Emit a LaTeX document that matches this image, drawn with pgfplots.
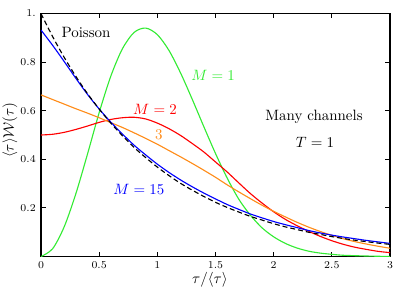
\documentclass[border=0pt]{standalone}
\usepackage{pgfplots}
\pgfplotsset{compat=1.18}
\definecolor{cgreen}{rgb}{0.2,0.92,0.2}
\definecolor{corange}{rgb}{1,0.55,0.1}
\begin{document}
\begin{tikzpicture}
\begin{axis}[
  scale only axis, width=232.67bp, height=162bp,
  xmin=0, xmax=3, ymin=0, ymax=1,
  xtick={0,0.5,1,1.5,2,2.5,3}, xticklabels={0,0.5,1,1.5,2,2.5,3},
  ytick={0.2,0.4,0.6,0.8,1}, yticklabels={0.2,0.4,0.6,0.8,1.},
  tick align=inside, major tick length=3.3bp,
  ticklabel style={font=\scriptsize},
  axis line style={line width=0.7pt},
  every tick/.style={black, line width=0.6pt},
  xlabel={$\tau/\langle\tau\rangle$},
  ylabel={$\langle\tau\rangle\mathcal{W}(\tau)$},
  xlabel style={at={(axis description cs:0.484,-0.097)},anchor=center},
  ylabel style={at={(axis description cs:-0.089,0.52)},anchor=center},
  every axis plot/.append style={line width=0.75pt, smooth},
]
% M = 1
\addplot[cgreen] coordinates {
(0,0) (0.1,0.032) (0.2,0.123) (0.3,0.259) (0.4,0.422) (0.5,0.592) (0.6,0.742)
(0.7,0.855) (0.8,0.922) (0.9,0.940) (1.0,0.913) (1.1,0.848) (1.2,0.755)
(1.3,0.647) (1.4,0.534) (1.5,0.424) (1.6,0.323) (1.7,0.236) (1.8,0.170)
(1.9,0.118) (2.0,0.081) (2.1,0.054) (2.2,0.035) (2.3,0.022) (2.4,0.014)
(2.5,0.009) (2.6,0.005) (2.8,0.002) (3.0,0.000)};
% M = 2
\addplot[red] coordinates {
(0,0.500) (0.1,0.503) (0.2,0.511) (0.3,0.523) (0.4,0.537) (0.5,0.552) (0.6,0.564)
(0.7,0.571) (0.8,0.573) (0.9,0.566) (1.0,0.549) (1.1,0.526) (1.2,0.498)
(1.3,0.465) (1.4,0.430) (1.5,0.389) (1.6,0.348) (1.7,0.303) (1.8,0.259)
(1.9,0.220) (2.0,0.184) (2.1,0.153) (2.2,0.127) (2.3,0.104) (2.4,0.083)
(2.5,0.065) (2.6,0.050) (2.7,0.038) (2.8,0.029) (2.9,0.021) (3.0,0.016)};
% M = 3
\addplot[corange] coordinates {
(0,0.665) (0.1,0.646) (0.2,0.627) (0.3,0.608) (0.4,0.590) (0.5,0.571) (0.6,0.551)
(0.7,0.531) (0.8,0.509) (0.9,0.486) (1.0,0.462) (1.1,0.436) (1.2,0.410)
(1.3,0.383) (1.4,0.355) (1.5,0.326) (1.6,0.295) (1.7,0.266) (1.8,0.238)
(1.9,0.211) (2.0,0.186) (2.1,0.163) (2.2,0.141) (2.3,0.121) (2.4,0.103)
(2.5,0.087) (2.6,0.073) (2.7,0.061) (2.8,0.051) (2.9,0.042) (3.0,0.034)};
% M = 15
\addplot[blue] coordinates {
(0,0.932) (0.1,0.869) (0.2,0.802) (0.3,0.733) (0.4,0.667) (0.5,0.607) (0.6,0.553)
(0.7,0.504) (0.8,0.458) (0.9,0.418) (1.0,0.380) (1.1,0.346) (1.2,0.315)
(1.3,0.287) (1.4,0.261) (1.5,0.237) (1.6,0.214) (1.7,0.194) (1.8,0.175)
(1.9,0.159) (2.0,0.144) (2.1,0.131) (2.2,0.119) (2.3,0.107) (2.4,0.097)
(2.5,0.088) (2.6,0.080) (2.7,0.073) (2.8,0.066) (2.9,0.060) (3.0,0.054)};
% Poisson
\addplot[black, dash pattern=on 3.3bp off 2bp] coordinates {
(0,1.000) (0.1,0.905) (0.2,0.819) (0.3,0.741) (0.4,0.670) (0.5,0.607) (0.6,0.549)
(0.7,0.497) (0.8,0.449) (0.9,0.407) (1.0,0.368) (1.1,0.333) (1.2,0.301)
(1.3,0.273) (1.4,0.247) (1.5,0.223) (1.6,0.202) (1.7,0.183) (1.8,0.165)
(1.9,0.150) (2.0,0.135) (2.1,0.122) (2.2,0.111) (2.3,0.100) (2.4,0.091)
(2.5,0.082) (2.6,0.074) (2.7,0.067) (2.8,0.061) (2.9,0.055) (3.0,0.050)};
\node at (axis cs:0.387,0.920) {Poisson};
\node[text=cgreen] at (axis cs:1.479,0.747) {$M=1$};
\node[text=red] at (axis cs:0.980,0.607) {$M=2$};
\node[text=corange] at (axis cs:1.014,0.500) {$3$};
\node[text=blue] at (axis cs:0.842,0.278) {$M=15$};
\node at (axis cs:2.347,0.574) {Many channels};
\node at (axis cs:2.355,0.471) {$T=1$};
\end{axis}
\pgfresetboundingbox
\path[use as bounding box] (-27.33bp,-22.33bp) rectangle (236bp,171bp);
\end{tikzpicture}
\end{document}
